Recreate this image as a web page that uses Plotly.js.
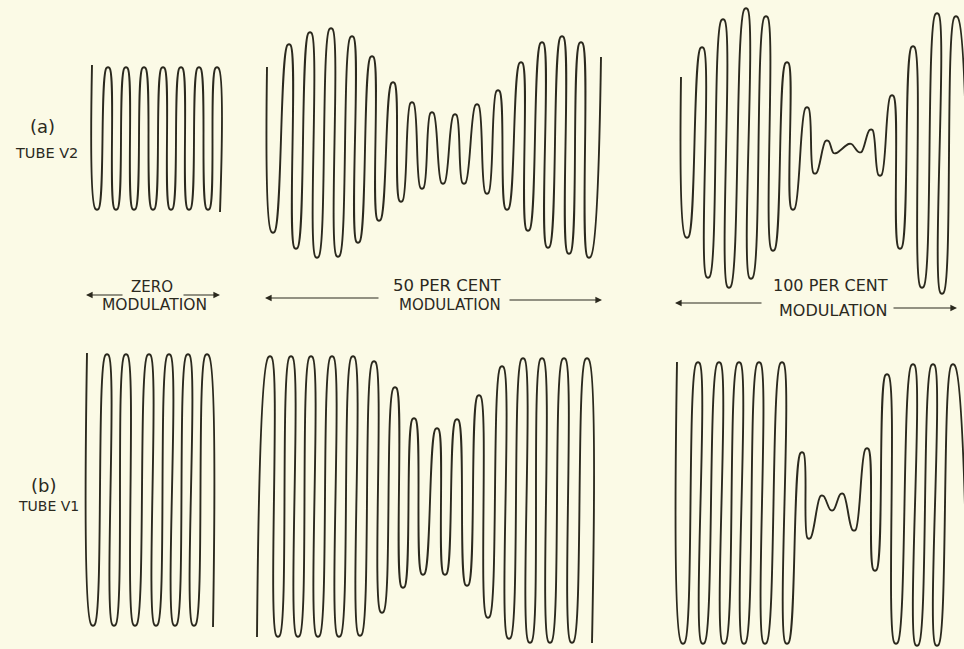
<!DOCTYPE html>
<html>
<head>
<meta charset="utf-8">
<script src="https://cdn.plot.ly/plotly-3.0.1.min.js"></script>
<style>
  html, body { margin: 0; padding: 0; background: #fbfae6; }
  #chart { width: 964px; height: 649px; }
</style>
</head>
<body>
<div id="chart"></div>
<script>
// Turning points of each trace (time offset, instantaneous amplitude).
// (a) Tube V2
const aZeroT = [6, 11, 22, 30, 40, 48, 58, 67, 77, 85, 95, 103, 113, 122, 131, 134];
const aZeroV = [74, -70, 71, -70, 71, -70, 71, -70, 71, -70, 71, -70, 71, -70, 71, -73];

const aHalfT = [5, 11, 27, 34, 48, 55, 69, 76, 90, 96, 110, 117, 131, 139, 150, 160, 170, 181, 193, 202, 215, 225, 236, 245, 259, 266, 280, 286, 300, 307, 319, 327, 339];
const aHalfV = [76, -89, 98, -105, 110, -114, 114, -113, 106, -99, 86, -77, 60, -58, 40, -45, 30, -40, 28, -40, 38, -50, 52, -66, 80, -87, 100, -104, 106, -110, 100, -114, 86];

const aFullT = [5, 11, 26, 32, 47, 53, 70, 75, 90, 97, 111, 117, 131, 139, 151, 159, 174, 184, 195, 204, 216, 224, 237, 246, 261, 266, 280, 292];
const aFullV = [74, -86, 103, -126, 131, -136, 142, -127, 134, -99, 88, -58, 43, -22, 10, -2, 7, -1, 21, -24, 55, -97, 104, -136, 137, -142, 134, -139];

// (b) Tube V1
const bZeroT = [5, 11, 25, 32, 44, 53, 67, 74, 87, 93, 106, 112, 125, 131];
const bZeroV = [137, -135, 135, -135, 135, -135, 135, -135, 135, -135, 135, -135, 135, -137];

const bHalfT = [5, 18, 26, 39, 46, 59, 66, 80, 87, 101, 108, 122, 130, 143, 151, 162, 171, 185, 193, 205, 215, 227, 236, 250, 257, 271, 278, 290, 298, 312, 320, 335, 340];
const bHalfV = [-139, 141, -138, 141, -138, 141, -138, 141, -138, 141, -137, 136, -114, 110, -89, 79, -76, 69, -76, 78, -87, 102, -119, 131, -140, 139, -144, 139, -144, 139, -144, 139, -145];

const bFullT = [5, 11, 26, 31, 47, 52, 67, 72, 87, 93, 110, 115, 130, 137, 150, 160, 170, 182, 195, 203, 215, 224, 241, 245, 261, 265, 281, 296];
const bFullV = [142, -139, 141, -139, 141, -139, 141, -139, 141, -139, 141, -139, 51, -34, 8, -6, 10, -26, 55, -66, 129, -139, 139, -141, 139, -141, 139, -141];

const leftLabels = ['(a)', 'TUBE V2', '(b)', 'TUBE V1'];
const modLabels = [['ZERO', 'MODULATION'], ['50 PER CENT', 'MODULATION'], ['100 PER CENT', 'MODULATION']];

const W = 964, H = 649;
const INK = '#2b291e';
const LOOP = 1.5; // drawing style: half-width of the rounded crest of each loop

// panel boxes in page pixels: [left, right, top, bottom] and axis ranges
const panels = [
  {t: aZeroT, v: aZeroV, box: [86, 224, 60, 218], xr: [0, 138], yr: [-79, 79]},
  {t: aHalfT, v: aHalfV, box: [262, 606, 25, 261], xr: [0, 344], yr: [-118, 118]},
  {t: aFullT, v: aFullV, box: [676, 964, 5, 297], xr: [0, 288], yr: [-146, 146]},
  {t: bZeroT, v: bZeroV, box: [82, 218, 348, 632], xr: [0, 136], yr: [-142, 142]},
  {t: bHalfT, v: bHalfV, box: [252, 600, 350, 646], xr: [0, 348], yr: [-148, 148]},
  {t: bFullT, v: bFullV, box: [672, 964, 359, 649], xr: [0, 292], yr: [-145, 145]}
];

// each interior turning point is drawn as a rounded crest (two spline knots)
function crestPath(t, v) {
  const xs = [], ys = [];
  t.forEach((ti, i) => {
    if (i === 0 || i === t.length - 1) { xs.push(ti); ys.push(v[i]); }
    else { xs.push(ti - LOOP, ti + LOOP); ys.push(v[i], v[i]); }
  });
  return {xs, ys};
}

const traces = [];
const layout = {
  width: W, height: H,
  margin: {l: 0, r: 0, t: 0, b: 0},
  paper_bgcolor: '#fbfae6',
  plot_bgcolor: 'rgba(0,0,0,0)',
  showlegend: false,
  annotations: [],
  font: {family: 'DejaVu Sans, sans-serif', color: INK}
};

panels.forEach((p, i) => {
  const n = i + 1;
  const xa = n === 1 ? 'x' : 'x' + n;
  const ya = n === 1 ? 'y' : 'y' + n;
  const path = crestPath(p.t, p.v);
  traces.push({
    type: 'scatter', mode: 'lines',
    x: path.xs, y: path.ys, xaxis: xa, yaxis: ya,
    line: {color: INK, width: 1.9, shape: 'spline', smoothing: 1},
    hoverinfo: 'skip'
  });
  const [l, r, t, b] = p.box;
  layout['xaxis' + (n === 1 ? '' : n)] = {
    domain: [l / W, r / W], range: p.xr, visible: false, fixedrange: true,
    anchor: ya
  };
  layout['yaxis' + (n === 1 ? '' : n)] = {
    domain: [1 - b / H, 1 - t / H], range: p.yr, visible: false, fixedrange: true,
    anchor: xa
  };
});

function txt(text, px, py, size) {
  layout.annotations.push({
    xref: 'paper', yref: 'paper', x: px / W, y: 1 - py / H,
    xanchor: 'center', yanchor: 'middle', showarrow: false,
    text: text, font: {size: size, color: INK, family: 'DejaVu Sans, sans-serif'}
  });
}
function arrow(headX, tailX, py) {
  layout.annotations.push({
    xref: 'paper', yref: 'paper', x: headX / W, y: 1 - py / H,
    text: '', showarrow: true, ax: tailX - headX, ay: 0,
    arrowhead: 2, arrowsize: 1.1, arrowwidth: 1.2, arrowcolor: INK, standoff: 0
  });
}

// side labels
txt(leftLabels[0], 42, 127, 18);
txt(leftLabels[1], 46, 153, 14.5);
txt(leftLabels[2], 43, 485, 18);
txt(leftLabels[3], 48, 506, 14);

// modulation labels
txt(modLabels[0][0], 152, 287, 15);
txt(modLabels[0][1], 154, 305, 15.5);
arrow(86, 124, 295);
arrow(220, 182, 295);

txt(modLabels[1][0], 447, 285, 16.5);
txt(modLabels[1][1], 450, 305, 15);
arrow(265, 380, 298);
arrow(602, 508, 300);

txt(modLabels[2][0], 830, 285, 16);
txt(modLabels[2][1], 833, 311, 16);
arrow(675, 763, 303);
arrow(957, 892, 308);

Plotly.newPlot('chart', traces, layout, {displayModeBar: false, staticPlot: true});
</script>
</body>
</html>
